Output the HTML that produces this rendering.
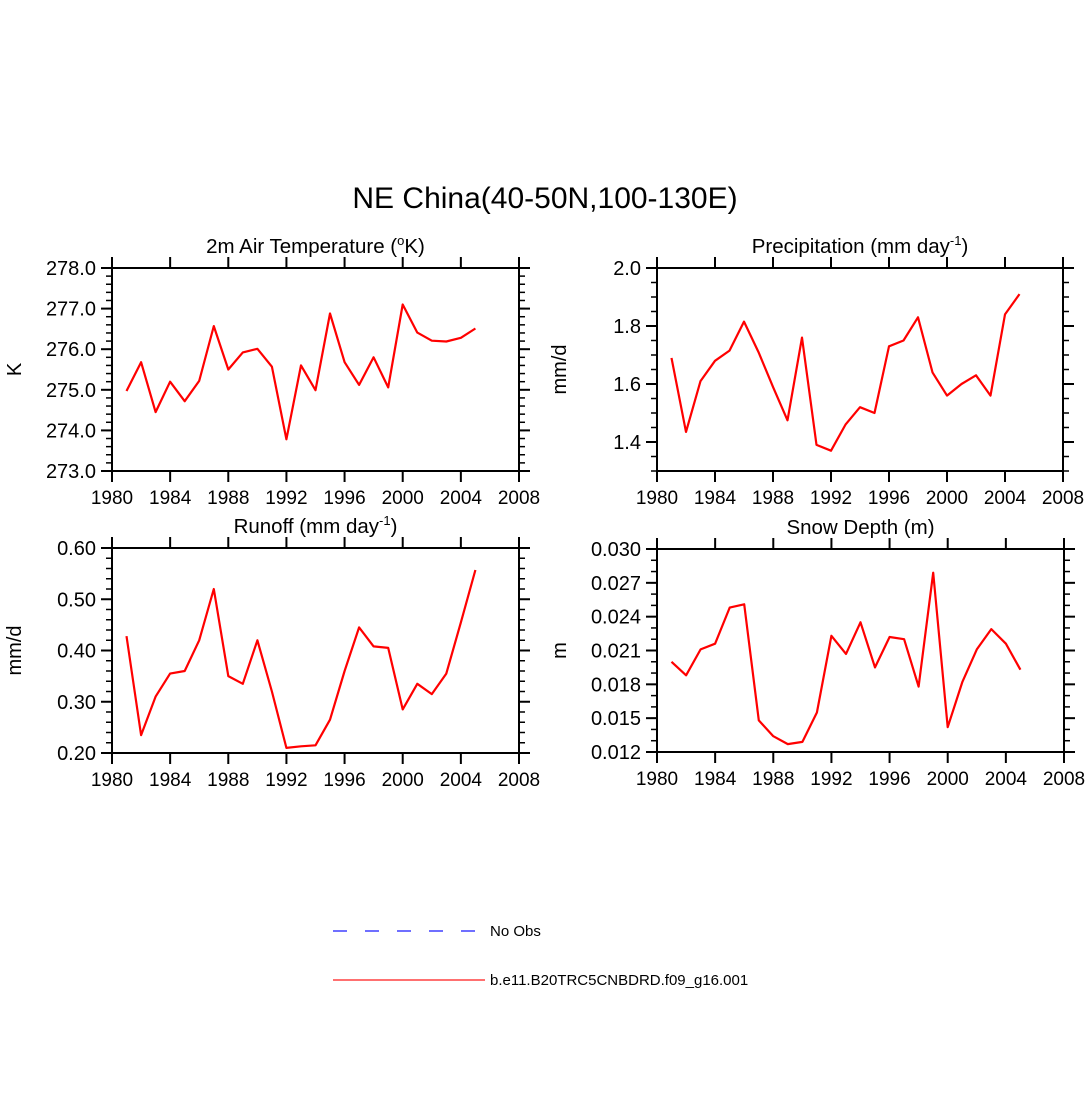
<!DOCTYPE html>
<html><head><meta charset="utf-8"><style>
html,body{margin:0;padding:0;background:#fff;}
svg text{font-family:"Liberation Sans",sans-serif;fill:#000;}
</style></head><body>
<svg id="chart" width="1090" height="1092" xmlns="http://www.w3.org/2000/svg">
<text x="545" y="208" font-size="30" text-anchor="middle">NE China(40-50N,100-130E)</text>
<g>
<line x1="333" y1="931" x2="480" y2="931" stroke="#6f6fff" stroke-width="2" stroke-dasharray="14,18"/>
<text x="490" y="936" font-size="15">No Obs</text>
<line x1="333" y1="980" x2="485" y2="980" stroke="#ff7070" stroke-width="2"/>
<text x="490" y="985" font-size="15">b.e11.B20TRC5CNBDRD.f09_g16.001</text>
</g>
</svg>
<script>
const years=[1981,1982,1983,1984,1985,1986,1987,1988,1989,1990,1991,1992,1993,1994,1995,1996,1997,1998,1999,2000,2001,2002,2003,2004,2005];
const xTicks=[1980,1984,1988,1992,1996,2000,2004,2008];
const tempVals=[274.97,275.68,274.45,275.2,274.72,275.22,276.57,275.5,275.92,276.01,275.57,273.78,275.6,274.99,276.88,275.68,275.12,275.8,275.06,277.1,276.41,276.21,276.19,276.28,276.51];
const precVals=[1.69,1.435,1.61,1.68,1.715,1.815,1.71,1.59,1.475,1.76,1.39,1.37,1.46,1.52,1.50,1.73,1.75,1.83,1.64,1.56,1.60,1.63,1.56,1.84,1.91];
const runoffVals=[0.428,0.235,0.31,0.355,0.36,0.42,0.52,0.35,0.335,0.42,0.32,0.21,0.213,0.215,0.265,0.36,0.445,0.408,0.405,0.285,0.335,0.315,0.355,0.455,0.557];
const snowVals=[0.0200,0.0188,0.0211,0.0216,0.0248,0.0251,0.0148,0.0134,0.0127,0.0129,0.0155,0.0223,0.0207,0.0235,0.0195,0.0222,0.0220,0.0178,0.0279,0.0142,0.0182,0.0211,0.0229,0.0216,0.0193];
const tempTicks=[273,274,275,276,277,278];
const precTicks=[1.4,1.6,1.8,2.0];
const runoffTicks=[0.2,0.3,0.4,0.5,0.6];
const snowTicks=[0.012,0.015,0.018,0.021,0.024,0.027,0.030];

const NS="http://www.w3.org/2000/svg";
const svg=document.getElementById('chart');
function mk(tag,attrs,parent){const e=document.createElementNS(NS,tag);for(const k in attrs)e.setAttribute(k,attrs[k]);(parent||svg).appendChild(e);return e;}

const panels=[
 {name:'temperature',t1:'2m Air Temperature (',sup:'o',t2:'K)',ylab:'K',vals:tempVals,ticks:tempTicks,ymin:273,ymax:278,minor:0.2,dec:1,x0:112,x1:519,y0:268,y1:471},
 {name:'precipitation',t1:'Precipitation (mm day',sup:'-1',t2:')',ylab:'mm/d',vals:precVals,ticks:precTicks,ymin:1.3,ymax:2.0,minor:0.05,dec:1,x0:657,x1:1063,y0:268,y1:471},
 {name:'runoff',t1:'Runoff (mm day',sup:'-1',t2:')',ylab:'mm/d',vals:runoffVals,ticks:runoffTicks,ymin:0.2,ymax:0.6,minor:0.02,dec:2,x0:112,x1:519,y0:548,y1:753},
 {name:'snow-depth',t1:'Snow Depth (m)',sup:'',t2:'',ylab:'m',vals:snowVals,ticks:snowTicks,ymin:0.012,ymax:0.030,minor:0.001,dec:3,x0:657,x1:1064,y0:549,y1:752}
];

panels.forEach(p=>{
 const g=mk('g',{});
 
 
 const X=v=>p.x0+(v-1980)/(2008-1980)*(p.x1-p.x0);
 const Y=v=>p.y1-(v-p.ymin)/(p.ymax-p.ymin)*(p.y1-p.y0);
 const t=mk('text',{x:(p.x0+p.x1)/2,y:p.y0-15,'font-size':20.5,'text-anchor':'middle'},g);
 
 
 t.appendChild(document.createTextNode(p.t1));
 if(p.sup){const s=mk('tspan',{'font-size':13,dy:-8},t);s.textContent=p.sup;const s2=mk('tspan',{'font-size':20.5,dy:8},t);s2.textContent=p.t2;}
 const yl=mk('text',{x:0,y:0,'font-size':20,'text-anchor':'middle',transform:`translate(${p.x0-91},${(p.y0+p.y1)/2}) rotate(-90)`},g);
 
 
 yl.textContent=p.ylab;
 const n=Math.round((p.ymax-p.ymin)/p.minor);
 for(let i=0;i<=n;i++){const y=Y(p.ymin+i*p.minor);
  const a=mk('line',{x1:p.x0-6,x2:p.x0,y1:y,y2:y,stroke:'#000','stroke-width':1.5},g);
  
  const b=mk('line',{x1:p.x1,x2:p.x1+6,y1:y,y2:y,stroke:'#000','stroke-width':1.5},g);
  }
 p.ticks.forEach(v=>{const y=Y(v);
  const a=mk('line',{x1:p.x0-11,x2:p.x0,y1:y,y2:y,stroke:'#000','stroke-width':2},g);
  
  const b=mk('line',{x1:p.x1,x2:p.x1+11,y1:y,y2:y,stroke:'#000','stroke-width':2},g);
  
  const l=mk('text',{x:p.x0-16,y:y+7,'font-size':20,'text-anchor':'end'},g);
  
  l.textContent=v.toFixed(p.dec);});
 xTicks.forEach(v=>{const x=X(v);
  const a=mk('line',{x1:x,x2:x,y1:p.y1,y2:p.y1+11,stroke:'#000','stroke-width':2},g);
  
  const b=mk('line',{x1:x,x2:x,y1:p.y0-11,y2:p.y0,stroke:'#000','stroke-width':2},g);
  
  const l=mk('text',{x:x,y:p.y1+33,'font-size':19,'text-anchor':'middle'},g);
  
  l.textContent=v;});
 const fr=mk('rect',{x:p.x0,y:p.y0,width:p.x1-p.x0,height:p.y1-p.y0,fill:'none',stroke:'#000','stroke-width':2},g);
 
 
 const pts=years.map((yr,i)=>X(yr).toFixed(1)+','+Y(p.vals[i]).toFixed(1)).join(' ');
 const ln=mk('polyline',{points:pts,fill:'none',stroke:'#ff0000','stroke-width':2.2,'stroke-linejoin':'round'},g);
 
 
});
</script>
</body></html>
